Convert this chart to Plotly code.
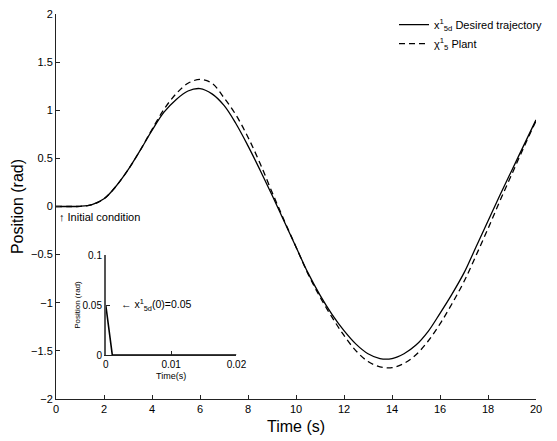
import plotly.graph_objects as go

# ---- main chart data ----
t_desired = [0, 0.5, 1.0, 1.5, 2.0, 2.5, 3.0, 3.5, 4.0, 4.5, 5.0, 5.5, 6.0, 6.5, 7.0, 7.5,
             8.0, 8.5, 9.0, 9.5, 10.0, 10.5, 11.0, 11.5, 12.0, 12.5, 13.0, 13.5,
             14.0, 14.5, 15.0, 15.5, 16.0, 16.5, 17.0, 17.5, 18.0, 18.5, 19.0, 19.5, 20.0]
x_desired = [0, 0.0, 0.002, 0.02, 0.08, 0.21, 0.38, 0.58, 0.79, 0.98, 1.11, 1.20, 1.225, 1.17, 1.05, 0.86,
             0.63, 0.38, 0.12, -0.15, -0.42, -0.69, -0.92, -1.12, -1.29, -1.43, -1.53, -1.58,
             -1.58, -1.53, -1.44, -1.30, -1.11, -0.91, -0.69, -0.42, -0.15, 0.12, 0.38, 0.64, 0.90]

t_plant = [0, 0.5, 1.0, 1.5, 2.0, 2.5, 3.0, 3.5, 4.0, 4.5, 5.0, 5.5, 6.0, 6.5, 7.0, 7.5,
           8.0, 8.5, 9.0, 9.5, 10.0, 10.5, 11.0, 11.5, 12.0, 12.5, 13.0, 13.5,
           14.0, 14.5, 15.0, 15.5, 16.0, 16.5, 17.0, 17.5, 18.0, 18.5, 19.0, 19.5, 20.0]
x_plant = [0, 0.0, 0.002, 0.02, 0.08, 0.21, 0.38, 0.58, 0.80, 1.01, 1.17, 1.28, 1.32, 1.28, 1.13, 0.95,
           0.72, 0.45, 0.15, -0.14, -0.42, -0.70, -0.94, -1.15, -1.34, -1.50, -1.61, -1.665,
           -1.675, -1.63, -1.54, -1.40, -1.22, -1.01, -0.78, -0.51, -0.23, 0.06, 0.34, 0.62, 0.89]

x_ticks = [0, 2, 4, 6, 8, 10, 12, 14, 16, 18, 20]
y_ticks = [-2, -1.5, -1, -0.5, 0, 0.5, 1, 1.5, 2]
y_tick_labels = ["−2", "−1.5", "−1", "−0.5", "0", "0.5", "1", "1.5", "2"]

# ---- inset data ----
inset_t = [0, 0.001, 0.02]
inset_x = [0.05, 0, 0]
inset_x_ticks = [0, 0.01, 0.02]
inset_x_labels = ["0", "0.01", "0.02"]
inset_y_ticks = [0, 0.05, 0.1]
inset_y_labels = ["0", "0.05", "0.1"]

FONT = "Arial, Liberation Sans, sans-serif"

fig = go.Figure()
fig.add_trace(go.Scatter(
    x=t_desired, y=x_desired, mode="lines", line_shape="spline",
    line=dict(color="black", width=1.3),
    name="x<sup>1</sup><sub>5d</sub> Desired trajectory"))
fig.add_trace(go.Scatter(
    x=t_plant, y=x_plant, mode="lines", line_shape="spline",
    line=dict(color="black", width=1.3, dash="6px,4px"),
    name="χ<sup>1</sup><sub>5</sub> Plant"))
fig.add_trace(go.Scatter(
    x=inset_t, y=inset_x, mode="lines", xaxis="x2", yaxis="y2",
    line=dict(color="black", width=1.6), showlegend=False))

axis_common = dict(showline=True, linecolor="#222", linewidth=1, ticks="inside",
                   tickcolor="#222", ticklen=4, showgrid=False, zeroline=False,
                   mirror=False)

fig.update_layout(
    width=557, height=441,
    margin=dict(l=56, r=9, t=14, b=42),
    paper_bgcolor="white", plot_bgcolor="white",
    font=dict(family=FONT, color="black", size=11),
    xaxis=dict(range=[0, 20], tickvals=x_ticks, domain=[0, 1],
               title=dict(text="Time (s)", font=dict(size=16), standoff=6),
               tickfont=dict(size=11), **axis_common),
    yaxis=dict(range=[-2, 2], tickvals=y_ticks, ticktext=y_tick_labels, domain=[0, 1],
               title=dict(text="Position (rad)", font=dict(size=16), standoff=3),
               tickfont=dict(size=11), **axis_common),
    xaxis2=dict(range=[0, 0.02], tickvals=inset_x_ticks, ticktext=inset_x_labels,
                domain=[0.1037, 0.376], anchor="y2",
                title=dict(text="Time(s)", font=dict(size=9), standoff=3),
                tickfont=dict(size=10), **axis_common),
    yaxis2=dict(range=[0, 0.1], tickvals=inset_y_ticks, ticktext=inset_y_labels,
                domain=[0.114, 0.374], anchor="x2",
                title=dict(text="Position (rad)", font=dict(size=8), standoff=0),
                tickfont=dict(size=10), **axis_common),
    legend=dict(x=1.025, y=1.01, xanchor="right", yanchor="top",
                bgcolor="rgba(0,0,0,0)", font=dict(size=11), tracegroupgap=0,
                itemwidth=30),
    annotations=[
        dict(x=0.05, y=0, xref="x", yref="y", text="↑ Initial condition",
             showarrow=False, xanchor="left", yanchor="top", yshift=-2,
             font=dict(size=11)),
        dict(x=0.0021, y=0.05, xref="x2", yref="y2",
             text="← x<sup>1</sup><sub>5d</sub>(0)=0.05",
             showarrow=False, xanchor="left", yanchor="middle",
             font=dict(size=10.5)),
    ],
)

fig.update_layout(yaxis2=dict(linewidth=1.6, linecolor="#555"))

fig.write_html("out.html")
